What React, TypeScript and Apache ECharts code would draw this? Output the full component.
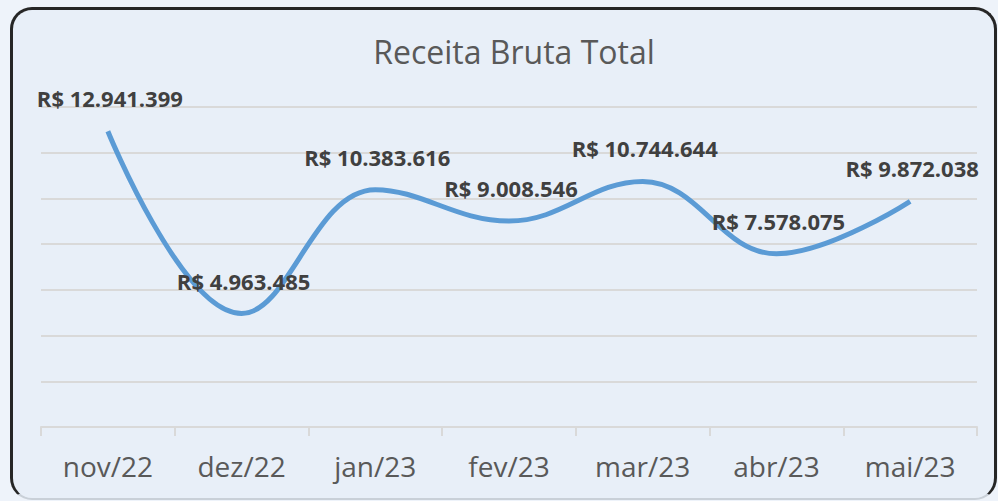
import React, { useEffect, useRef } from "react";
import * as echarts from "echarts";

const categories = ["nov/22", "dez/22", "jan/23", "fev/23", "mar/23", "abr/23", "mai/23"];
const receita = [12941399, 4963485, 10383616, 9008546, 10744644, 7578075, 9872038];

function fmt(v: number): string {
  const s = Math.round(v).toString();
  return "R$ " + s.replace(/\B(?=(\d{3})+(?!\d))/g, ".");
}

export default function App() {
  const ref = useRef<HTMLDivElement>(null);
  useEffect(() => {
    document.body.style.margin = "0";
    const chart = echarts.init(ref.current!, null, { renderer: "svg" });
    chart.setOption({
      animation: false,
      title: {
        text: "Receita Bruta Total",
        left: 499,
        textAlign: "center",
        top: 23,
        textStyle: { fontFamily: "Open Sans", fontSize: 32, fontWeight: "normal", color: "#595959" },
      },
      grid: { left: 31, right: 20, top: 100, bottom: 73 },
      xAxis: {
        type: "category",
        data: categories,
        boundaryGap: true,
        axisLine: { lineStyle: { color: "#d9d9d9", width: 2 } },
        axisTick: { show: true, length: 9, lineStyle: { color: "#d9d9d9", width: 2 } },
        axisLabel: { fontFamily: "Open Sans", fontSize: 28, color: "#595959", margin: 25 },
      },
      yAxis: {
        type: "value",
        min: 0,
        max: 14000000,
        interval: 2000000,
        axisLabel: { show: false },
        axisLine: { show: false },
        axisTick: { show: false },
        splitLine: { lineStyle: { color: "#d9d9d9", width: 2 } },
      },
      series: [
        {
          type: "line",
          data: receita,
          smooth: 0.4,
          symbol: "circle",
          symbolSize: 2,
          showSymbol: true,
          itemStyle: { color: "rgba(0,0,0,0)", borderWidth: 0 },
          lineStyle: { color: "#5b9bd5", width: 5 },
          label: {
            show: true,
            position: "top",
            distance: 21,
            offset: [2, 0],
            formatter: (p: any) => fmt(p.value),
            fontFamily: "Open Sans",
            fontSize: 22,
            fontWeight: "bold",
            color: "#404040",
            opacity: 1,
          },
        },
      ],
    });
    return () => chart.dispose();
  }, []);
  return (
    <div style={{ position: "fixed", left: 0, top: 0, width: 998, height: 501, background: "#eef3fa", overflow: "hidden" }}>
      <div
        style={{
          position: "absolute",
          left: 10,
          top: 7,
          width: 987,
          height: 493,
          boxSizing: "border-box",
          border: "3px solid #262626",
          borderBottomColor: "#c9d0d8",
          borderBottomWidth: 2,
          borderRadius: 22,
          background: "#e8eff8",
          overflow: "hidden",
        }}
      >
        <div ref={ref} style={{ position: "absolute", left: -3, top: -3, width: 987, height: 493 }} />
      </div>
    </div>
  );
}
